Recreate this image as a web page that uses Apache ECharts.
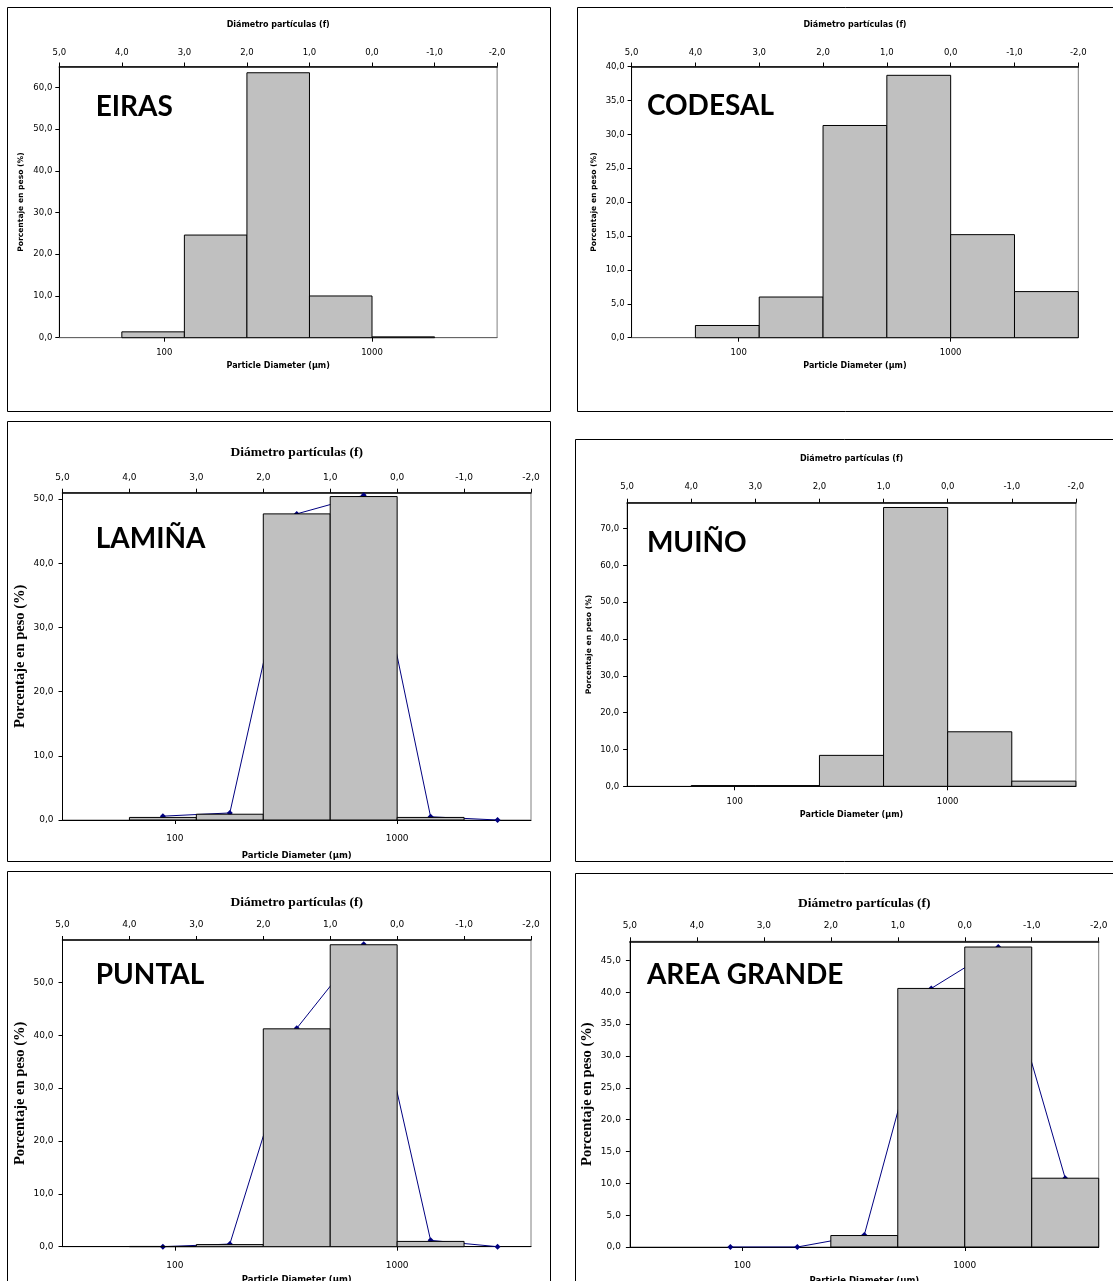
<!DOCTYPE html>
<html><head><meta charset="utf-8">
<script src="https://cdn.jsdelivr.net/npm/echarts@6/dist/echarts.min.js"></script>
<style>html,body{margin:0;padding:0;background:#fff}#c{width:1113px;height:1281px}</style>
</head><body><div id="c"></div>
<script>
// ---- DATA ----
const phiEdges = [4, 3, 2, 1, 0, -1, -2];          // phi class limits
const phiMids = [3.5, 2.5, 1.5, 0.5, -0.5, -1.5];  // class mid points
const phiRange = [-2, 5];
const diameterTicks = [100, 1000];                 // µm tick labels
const panelNames = ['EIRAS', 'CODESAL', 'LAMIÑA', 'MUIÑO', 'PUNTAL', 'AREA GRANDE'];

const eirasBars = [1.4, 24.6, 63.5, 10.0, 0.2, 0];
const codesalBars = [1.8, 6.0, 31.3, 38.7, 15.2, 6.8];
const laminaBars = [0.4, 0.9, 47.7, 50.4, 0.4, 0];
const laminaLine = [0.6, 1.1, 47.7, 50.6, 0.5, 0.0];
const muinoBars = [0.2, 0.2, 8.4, 75.7, 14.8, 1.4];
const puntalBars = [0.05, 0.4, 41.2, 57.1, 1.0, 0];
const puntalLine = [0.0, 0.5, 41.3, 57.2, 1.2, 0.0];
const areaGrandeBars = [0, 0, 1.8, 40.6, 47.1, 10.8];
const areaGrandeLine = [0.0, 0.0, 1.9, 40.6, 47.1, 10.8];

const eirasYTicks = [0, 10, 20, 30, 40, 50, 60];
const codesalYTicks = [0, 5, 10, 15, 20, 25, 30, 35, 40];
const laminaYTicks = [0, 10, 20, 30, 40, 50];
const muinoYTicks = [0, 10, 20, 30, 40, 50, 60, 70];
const puntalYTicks = [0, 10, 20, 30, 40, 50];
const areaGrandeYTicks = [0, 5, 10, 15, 20, 25, 30, 35, 40, 45];
const yMaxes = [65, 40, 51, 77, 58, 48];

const topTitle = 'Diámetro partículas (f)';
const bottomTitle = 'Particle Diameter (µm)';
const yTitle = 'Porcentaje en peso (%)';

const barsList = [eirasBars, codesalBars, laminaBars, muinoBars, puntalBars, areaGrandeBars];
const linesList = [null, null, laminaLine, null, puntalLine, areaGrandeLine];
const yTicksList = [eirasYTicks, codesalYTicks, laminaYTicks, muinoYTicks, puntalYTicks, areaGrandeYTicks];

// ---- LAYOUT / STYLE ----
const layouts = [
  {grid: [59.3, 66.5, 437.8, 271.2], box: [7.5, 7.5, 543, 404], lab: [95.7, 106.7], serif: false, topGap: 38, topMargin: 9, botMargin: 11, botGap: 24.5, yGap: 34, yMargin: 7, botColor: '#666'},
  {grid: [631.6, 66.5, 446.7, 271.2], box: [577.5, 7.5, 600, 404], lab: [646.9, 106.3], serif: false, topGap: 38, topMargin: 9, botMargin: 11, botGap: 24.5, yGap: 34, yMargin: 7, botColor: '#666'},
  {grid: [62.5, 492.7, 468.5, 327.3], box: [7.5, 421.5, 543, 440], lab: [95.7, 539.2], serif: true, topGap: 33, topMargin: 11, botMargin: 14, botGap: 31, yGap: 35, yMargin: 9, botColor: '#000'},
  {grid: [627.1, 502.7, 448.8, 283.6], box: [575.5, 439.5, 600, 422], lab: [646.9, 543], serif: false, topGap: 40, topMargin: 11, botMargin: 11, botGap: 24.5, yGap: 34, yMargin: 8, botColor: '#000'},
  {grid: [62.5, 940, 468.5, 306.7], box: [7.5, 871.5, 543, 450], lab: [95.7, 975.3], serif: true, topGap: 30.5, topMargin: 11, botMargin: 14, botGap: 29, yGap: 35, yMargin: 9, botColor: '#000'},
  {grid: [629.9, 941.3, 468.8, 305.7], box: [575.5, 873.5, 600, 450], lab: [646.9, 975.3], serif: true, topGap: 30.5, topMargin: 11, botMargin: 14, botGap: 29, yGap: 35, yMargin: 9, botColor: '#000'}
];

const comma = v => v.toFixed(1).replace('.', ',');
const phiToMicron = p => 1000 * Math.pow(2, -p);
const isTickValue = v => diameterTicks.some(t => Math.abs(Math.log10(v) - Math.log10(t)) < 1e-6);

const grids = [], xAxes = [], yAxes = [], series = [], graphics = [];

layouts.forEach((L, i) => {
  const tickFont = L.serif ? 9 : 8.5;
  grids.push({left: L.grid[0], top: L.grid[1], width: L.grid[2], height: L.grid[3],
    containLabel: false, outerBoundsMode: 'none',
    show: true, borderColor: '#808080', borderWidth: 1, backgroundColor: 'transparent'});
  // top phi axis
  xAxes.push({
    type: 'value', gridIndex: i, position: 'top', inverse: true,
    min: phiRange[0], max: phiRange[1], interval: 1,
    axisLine: {show: true, onZero: false, lineStyle: {color: '#000', width: 1.5}},
    axisTick: {show: true, inside: false, length: 4, lineStyle: {color: '#000', width: 1}},
    axisLabel: {formatter: comma, margin: L.topMargin, color: '#000', fontFamily: 'DejaVu Sans', fontSize: tickFont},
    splitLine: {show: false},
    name: topTitle, nameLocation: 'middle', nameGap: L.topGap,
    nameTextStyle: L.serif
      ? {fontFamily: 'Liberation Serif', fontWeight: 'bold', fontSize: 13.5, color: '#000'}
      : {fontFamily: 'DejaVu Sans', fontWeight: 'bold', fontSize: 8, color: '#000'}
  });
  // bottom log diameter axis
  xAxes.push({
    type: 'log', logBase: 10, gridIndex: i, position: 'bottom',
    min: phiToMicron(phiRange[1]), max: phiToMicron(phiRange[0]),
    axisLine: {show: true, onZero: false, lineStyle: {color: L.botColor, width: 1}},
    axisTick: {show: true, inside: false, length: 4, lineStyle: {color: '#000'}},
    axisLabel: {show: true, formatter: v => (isTickValue(v) ? String(Math.round(v)) : ''),
      showMinLabel: false, showMaxLabel: false,
      margin: L.botMargin, color: '#000', fontFamily: 'DejaVu Sans', fontSize: tickFont},
    splitLine: {show: false}, minorTick: {show: false},
    name: bottomTitle, nameLocation: 'middle', nameGap: L.botGap,
    nameTextStyle: {fontFamily: 'DejaVu Sans', fontWeight: 'bold', fontSize: L.serif ? 8.5 : 8, color: '#000'}
  });
  yAxes.push({
    type: 'value', gridIndex: i, min: 0, max: yMaxes[i],
    axisLine: {show: true, onZero: false, lineStyle: {color: '#000', width: 1}},
    axisTick: {show: true, inside: false, length: 4, customValues: yTicksList[i], lineStyle: {color: '#000'}},
    axisLabel: {customValues: yTicksList[i], formatter: comma, margin: L.yMargin, color: '#000', fontFamily: 'DejaVu Sans', fontSize: tickFont},
    splitLine: {show: false},
    name: yTitle, nameLocation: 'middle', nameGap: L.yGap,
    nameTextStyle: L.serif
      ? {fontFamily: 'Liberation Serif', fontWeight: 'bold', fontSize: 14.5, color: '#000'}
      : {fontFamily: 'DejaVu Sans', fontWeight: 'bold', fontSize: 7.6, color: '#000'}
  });

  const bars = barsList[i].map((v, k) => [phiEdges[k], phiEdges[k + 1], v]);
  series.push({
    type: 'custom', xAxisIndex: 2 * i, yAxisIndex: i, z: 3,
    encode: {x: [0, 1], y: 2},
    data: bars,
    renderItem: (params, api) => {
      const v = api.value(2);
      if (!(v > 0)) return null;
      const a = api.coord([api.value(0), v]);
      const b = api.coord([api.value(1), 0]);
      return {type: 'rect', shape: {x: a[0], y: a[1], width: b[0] - a[0], height: b[1] - a[1]},
        style: {fill: '#C0C0C0', stroke: '#000', lineWidth: 1}};
    }
  });
  if (linesList[i]) {
    series.push({
      type: 'line', xAxisIndex: 2 * i, yAxisIndex: i, z: 2,
      data: linesList[i].map((v, k) => [phiMids[k], v]),
      symbol: 'diamond', symbolSize: 6, showSymbol: true,
      lineStyle: {color: '#000080', width: 1}, itemStyle: {color: '#000080'},
      animation: false
    });
  }
  graphics.push({type: 'rect', silent: true, z: 0,
    shape: {x: L.box[0], y: L.box[1], width: L.box[2], height: L.box[3]},
    style: {fill: 'none', stroke: '#000', lineWidth: 1}});
  graphics.push({type: 'text', z: 100, x: L.lab[0], y: L.lab[1],
    style: {text: panelNames[i], fontFamily: 'Lato', fontWeight: 'bold', fontSize: 28, fill: '#000',
      align: 'left', verticalAlign: 'middle'}});
});

const chart = echarts.init(document.getElementById('c'), null, {renderer: 'canvas'});
chart.setOption({
  animation: false,
  backgroundColor: '#fff',
  grid: grids, xAxis: xAxes, yAxis: yAxes, series: series, graphic: graphics
});
</script></body></html>
